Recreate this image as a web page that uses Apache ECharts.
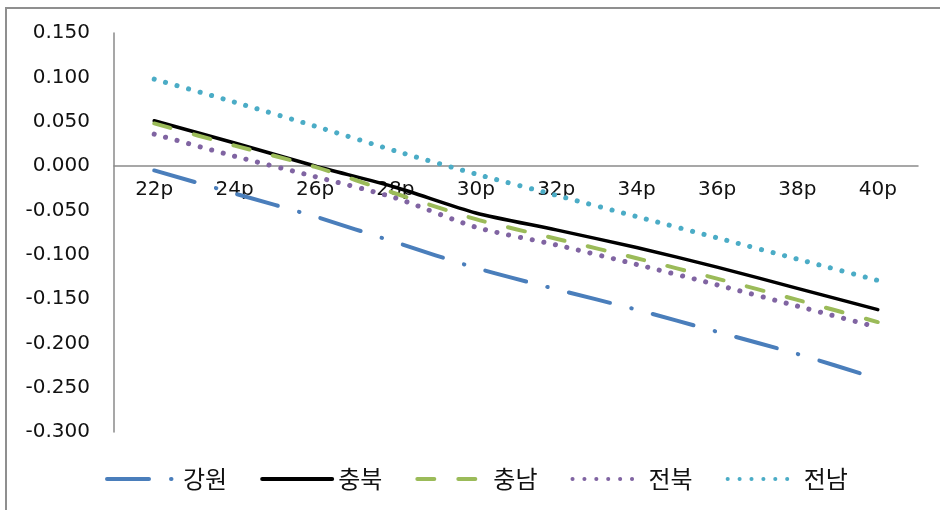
<!DOCTYPE html>
<html>
<head>
<meta charset="utf-8">
<script src="https://cdn.jsdelivr.net/npm/echarts@6/dist/echarts.min.js"></script>
<style>
  html, body { margin: 0; padding: 0; background: #ffffff; }
  #wrap { position: relative; width: 940px; height: 510px; overflow: hidden; }
  #frame { position: absolute; left: 5px; top: 7px; right: -10px; bottom: -10px;
           border-left: 2px solid #8f8f8f; border-top: 2px solid #8f8f8f; }
  #chart { position: absolute; left: 0; top: 0; width: 940px; height: 510px; }
</style>
</head>
<body>
<div id="wrap">
  <div id="frame"></div>
  <div id="chart"></div>
</div>
<script>
// Categories along the x axis
const categories = ['22p', '24p', '26p', '28p', '30p', '32p', '34p', '36p', '38p', '40p'];

// Series values per region
const gangwon   = [-0.005, -0.031, -0.057, -0.086, -0.115, -0.139, -0.162, -0.187, -0.212, -0.240];
const chungbuk  = [0.051, 0.026, 0.000, -0.024, -0.053, -0.072, -0.092, -0.114, -0.138, -0.162];
const chungnam  = [0.048, 0.023, -0.001, -0.031, -0.060, -0.082, -0.104, -0.127, -0.151, -0.176];
const jeonbuk   = [0.036, 0.011, -0.012, -0.036, -0.069, -0.089, -0.111, -0.134, -0.158, -0.182];
const jeonnam   = [0.098, 0.072, 0.045, 0.017, -0.009, -0.033, -0.057, -0.081, -0.105, -0.129];

const seriesNames = ['강원', '충북', '충남', '전북', '전남'];

// Value axis range
const yMin = -0.3;
const yMax = 0.15;
const yStep = 0.05;

// Plot area
const gridTop = 33;
const gridBottom = 78;
const chartHeight = 510;
const plotHeight = chartHeight - gridTop - gridBottom;
// The category axis (line and labels) sits on the zero value
const zeroOffset = plotHeight * (0 - yMin) / (yMax - yMin);

const chart = echarts.init(document.getElementById('chart'), null, { renderer: 'canvas' });

function lineSeries(name, data, color, width, dash) {
  return {
    name: name,
    type: 'line',
    data: data,
    symbol: 'none',
    smooth: 0.25,
    z: 3,
    lineStyle: {
      color: color,
      width: width,
      type: dash || 'solid',
      cap: 'round',
      join: 'round'
    },
    itemStyle: { color: color },
    emphasis: { disabled: true }
  };
}

chart.setOption({
  animation: false,
  backgroundColor: 'transparent',
  grid: { left: 114, right: 22, top: gridTop, bottom: gridBottom, containLabel: false },
  legend: {
    left: 100,
    top: 462,
    itemWidth: 70,
    itemHeight: 14,
    itemGap: 33,
    textStyle: {
      fontFamily: '"Noto Sans CJK KR", sans-serif',
      fontSize: 24,
      color: '#111111',
      padding: [0, 0, 0, 1]
    },
    itemStyle: { color: 'transparent', borderWidth: 0, opacity: 0 },
    lineStyle: { width: 4 },
    selectedMode: false,
    data: seriesNames
  },
  xAxis: {
    type: 'category',
    data: categories,
    boundaryGap: true,
    offset: -zeroOffset,
    axisLine: { onZero: false, lineStyle: { color: '#8a8a8a', width: 1.5 } },
    axisTick: { show: false },
    splitLine: { show: false },
    axisLabel: {
      margin: 14,
      fontFamily: '"DejaVu Sans", Verdana, sans-serif',
      fontSize: 20,
      color: '#111111'
    }
  },
  yAxis: {
    type: 'value',
    min: yMin,
    max: yMax,
    interval: yStep,
    axisLine: { show: true, onZero: false, lineStyle: { color: '#8a8a8a', width: 1.5 } },
    axisTick: { show: false },
    splitLine: { show: false },
    axisLabel: {
      margin: 24,
      fontFamily: '"DejaVu Sans", Verdana, sans-serif',
      fontSize: 20,
      color: '#111111',
      formatter: v => v.toFixed(3)
    }
  },
  series: [
    lineSeries(seriesNames[0], gangwon, '#4a7ebb', 4, [42, 22, 0.5, 22]),
    lineSeries(seriesNames[1], chungbuk, '#000000', 3.5),
    lineSeries(seriesNames[2], chungnam, '#9bbb59', 4, [17, 24]),
    lineSeries(seriesNames[3], jeonbuk, '#8064a2', 5, [0.1, 11.8]),
    lineSeries(seriesNames[4], jeonnam, '#4bacc6', 5, [0.1, 11.8])
  ]
});
</script>
</body>
</html>
